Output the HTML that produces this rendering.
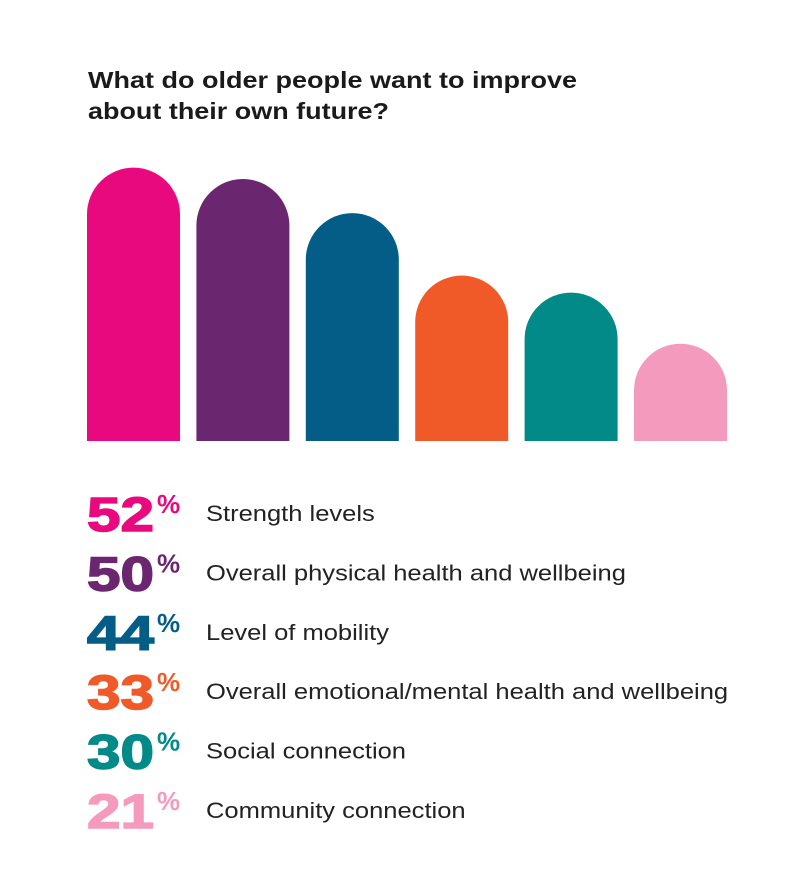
<!DOCTYPE html>
<html><head><meta charset="utf-8"><style>
body{margin:0;background:#fff;width:800px;height:880px;overflow:hidden;font-family:"Liberation Sans",sans-serif}
svg{display:block}
</style></head><body>
<svg id="chart" width="800" height="880">
<text x="88" y="88" font-size="23" font-weight="bold" fill="#1a1a1a" textLength="489" lengthAdjust="spacingAndGlyphs">What do older people want to improve</text>
<text x="88" y="119" font-size="23" font-weight="bold" fill="#1a1a1a" textLength="301" lengthAdjust="spacingAndGlyphs">about their own future?</text>
<g id="bars"></g>
<g id="legend"></g>
</svg>
<script>
const categories=["Strength levels","Overall physical health and wellbeing","Level of mobility","Overall emotional/mental health and wellbeing","Social connection","Community connection"];
const values=[52,50,44,33,30,21];
const colors=["#e8097f","#6b2670","#035d87","#f05a28","#028a88","#f49bbd"];
const NS="http://www.w3.org/2000/svg";
const base=441,barW=93;
const xs=i=>87+i*109.4;
const h=v=>-22+v*5.68;
const bars=document.getElementById('bars');
values.forEach((v,i)=>{
  const x=xs(i),top=base-h(v),r=barW/2;
  const p=document.createElementNS(NS,'path');
  p.setAttribute('d',`M${x},${base}V${top+r}A${r},${r} 0 0 1 ${x+barW},${top+r}V${base}Z`);
  p.setAttribute('fill',colors[i]);
  
  
  bars.appendChild(p);
});
const lg=document.getElementById('legend');
values.forEach((v,i)=>{
  const y=531+i*59.4;
  const n=document.createElementNS(NS,'text');
  n.setAttribute('x',87);n.setAttribute('y',y);
  n.setAttribute('font-size','48');n.setAttribute('font-weight','bold');n.setAttribute('fill',colors[i]);
  n.setAttribute('textLength','67');n.setAttribute('lengthAdjust','spacingAndGlyphs');
  n.setAttribute('stroke',colors[i]);n.setAttribute('stroke-width','1.5');
  
  
  n.textContent=v;
  lg.appendChild(n);
  const pc=document.createElementNS(NS,'text');
  pc.setAttribute('x',157);pc.setAttribute('y',y-18);
  pc.setAttribute('font-size','26');pc.setAttribute('font-weight','bold');pc.setAttribute('fill',colors[i]);
  
  
  pc.textContent='%';
  lg.appendChild(pc);
  const t=document.createElementNS(NS,'text');
  t.setAttribute('x',206);t.setAttribute('y',y-10);
  t.setAttribute('font-size','22');t.setAttribute('fill','#222');
  
  
  t.textContent=categories[i];
  lg.appendChild(t);
  const L=t.getComputedTextLength();
  t.setAttribute('textLength',(L*1.16).toFixed(1));
  t.setAttribute('lengthAdjust','spacingAndGlyphs');
});
</script>
</body></html>
